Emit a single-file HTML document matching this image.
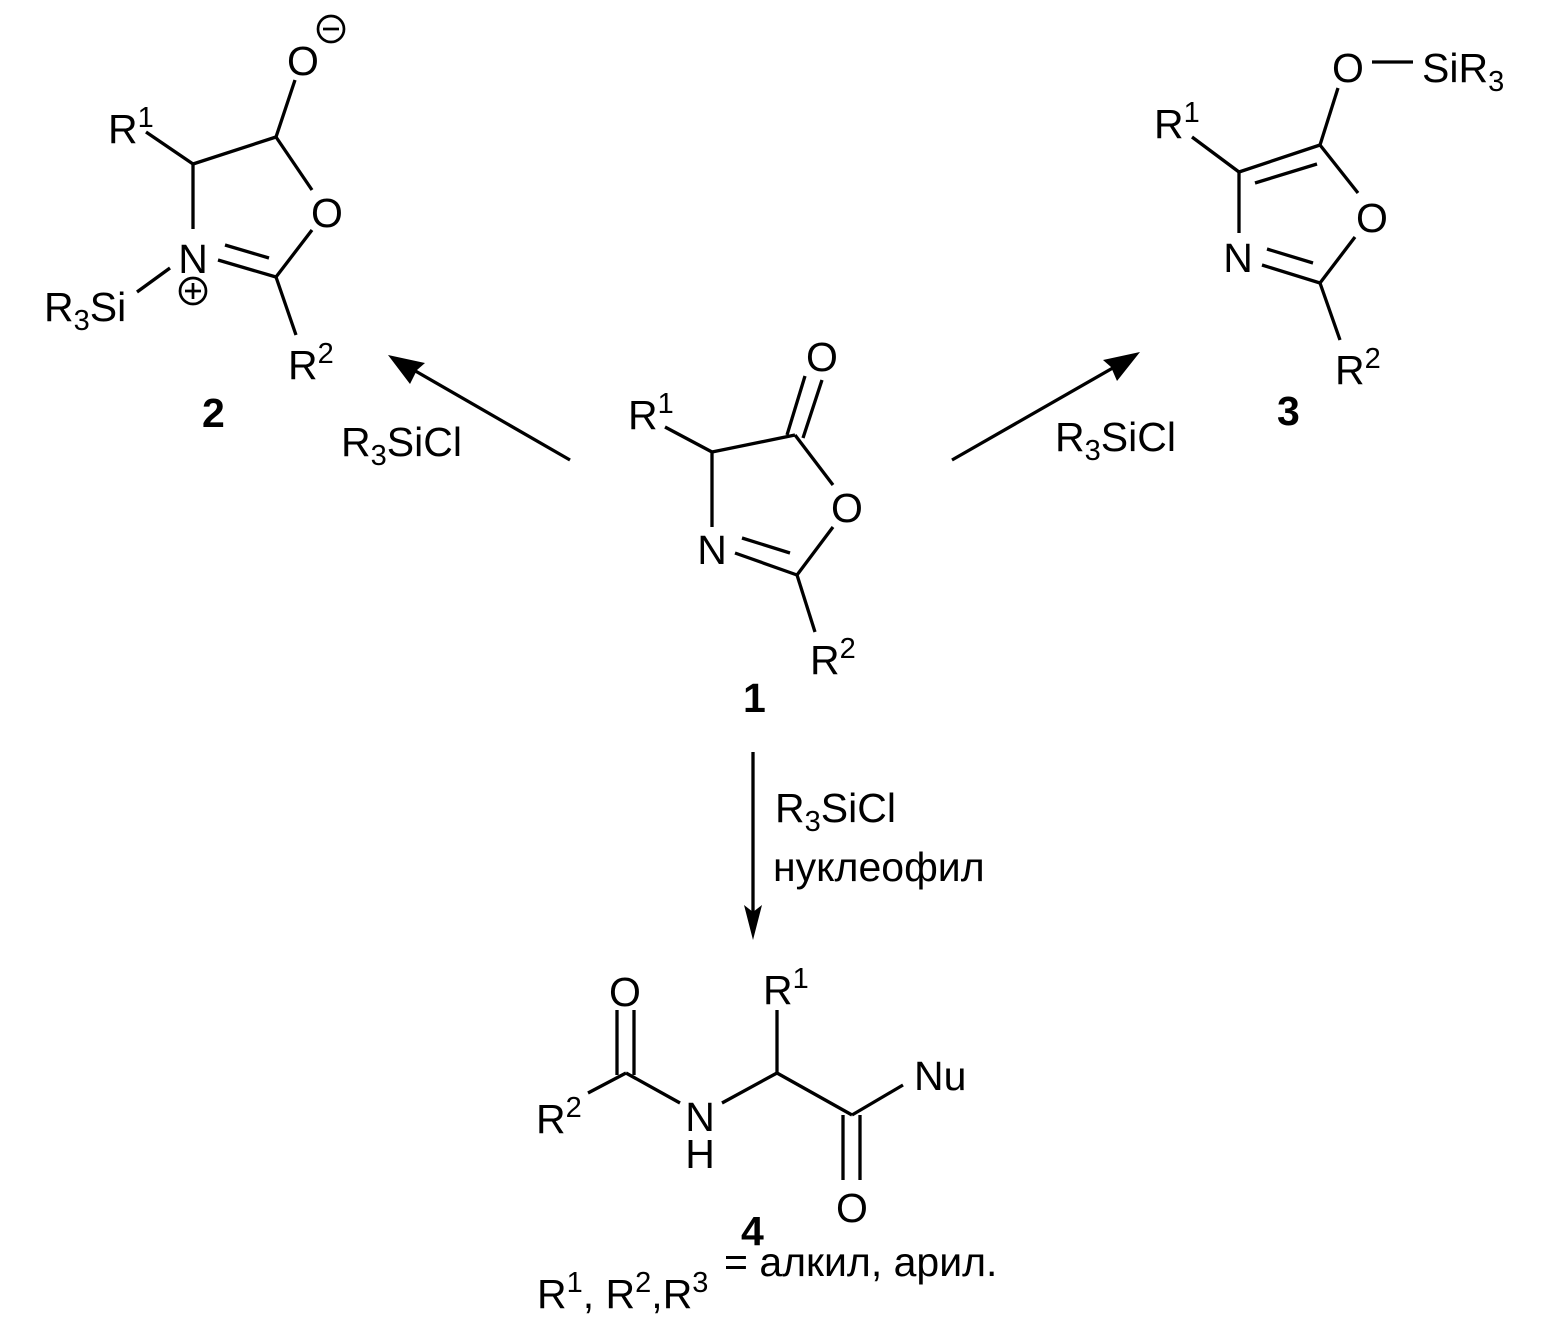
<!DOCTYPE html>
<html><head><meta charset="utf-8"><style>
html,body{margin:0;padding:0;background:#fff}
svg{display:block}
text{font-family:"Liberation Sans",sans-serif;font-size:41px;fill:#000}
.m{text-anchor:middle}
.b{font-weight:bold}
.s{font-size:29px}
</style></head><body>
<svg width="1562" height="1330" viewBox="0 0 1562 1330" xmlns="http://www.w3.org/2000/svg">
<g stroke="#000" stroke-width="3.3" fill="none" stroke-linecap="butt">
<line x1="276" y1="137" x2="295" y2="80"/>
<line x1="193" y1="164" x2="276" y2="137"/>
<line x1="193" y1="164" x2="146" y2="132"/>
<line x1="193" y1="164" x2="193" y2="229"/>
<line x1="170" y1="268" x2="137" y2="292"/>
<line x1="218" y1="260" x2="276" y2="277"/>
<line x1="225" y1="245" x2="269" y2="258"/>
<line x1="276" y1="277" x2="312" y2="230"/>
<line x1="312" y1="190" x2="276" y2="137"/>
<line x1="276" y1="277" x2="296" y2="335"/>
<circle cx="331" cy="29" r="13" stroke-width="2.7"/>
<line x1="323" y1="29" x2="339" y2="29" stroke-width="2.7"/>
<circle cx="193" cy="291" r="13" stroke-width="2.7"/>
<line x1="185" y1="291" x2="201" y2="291" stroke-width="2.7"/>
<line x1="193" y1="283" x2="193" y2="299" stroke-width="2.7"/>
<line x1="712" y1="452" x2="665" y2="427"/>
<line x1="712" y1="452" x2="795" y2="435"/>
<line x1="712" y1="452" x2="712" y2="527"/>
<line x1="787" y1="435" x2="805" y2="376"/>
<line x1="803" y1="438" x2="822" y2="380"/>
<line x1="795" y1="435" x2="833" y2="485"/>
<line x1="833" y1="527" x2="797" y2="575"/>
<line x1="735" y1="553" x2="797" y2="575"/>
<line x1="742" y1="538" x2="790" y2="553"/>
<line x1="797" y1="575" x2="815" y2="632"/>
<line x1="1372" y1="62" x2="1413" y2="62"/>
<line x1="1338" y1="88" x2="1320" y2="145"/>
<line x1="1239" y1="172" x2="1320" y2="145"/>
<line x1="1255" y1="183" x2="1317" y2="164"/>
<line x1="1239" y1="172" x2="1192" y2="137"/>
<line x1="1239" y1="172" x2="1239" y2="233"/>
<line x1="1262" y1="265" x2="1320" y2="283"/>
<line x1="1267" y1="249" x2="1313" y2="263"/>
<line x1="1320" y1="283" x2="1355" y2="237"/>
<line x1="1358" y1="193" x2="1320" y2="145"/>
<line x1="1320" y1="283" x2="1340" y2="340"/>
<line x1="617" y1="1010" x2="617" y2="1075"/>
<line x1="634" y1="1010" x2="634" y2="1075"/>
<line x1="626" y1="1073" x2="588" y2="1093"/>
<line x1="626" y1="1073" x2="680" y2="1103"/>
<line x1="722" y1="1103" x2="777" y2="1073"/>
<line x1="777" y1="1073" x2="777" y2="1010"/>
<line x1="777" y1="1073" x2="852" y2="1115"/>
<line x1="843" y1="1115" x2="843" y2="1180"/>
<line x1="860" y1="1115" x2="860" y2="1180"/>
<line x1="852" y1="1115" x2="903" y2="1085"/>
<line x1="570" y1="460" x2="405" y2="365"/>
<line x1="952" y1="460" x2="1125" y2="361"/>
<line x1="753" y1="752" x2="753" y2="920"/>
</g>
<g fill="#000">
<polygon points="388,355 425,363 417,370 410,384"/>
<polygon points="1140,352 1103,360 1111,367 1117,381"/>
<polygon points="753,940 744,905 753,912 762,905"/>
</g>
<text class="m" x="303" y="75">O</text>
<text x="108" y="143">R<tspan class="s" dy="-16">1</tspan></text>
<text class="m" x="193" y="273">N</text>
<text x="44" y="321">R<tspan class="s" dy="9">3</tspan><tspan dy="-9">Si</tspan></text>
<text class="m" x="327" y="227">O</text>
<text x="288" y="379">R<tspan class="s" dy="-16">2</tspan></text>
<text x="202" y="427" class="b">2</text>
<text x="341" y="456">R<tspan class="s" dy="9">3</tspan><tspan dy="-9">SiCl</tspan></text>
<text x="628" y="429">R<tspan class="s" dy="-16">1</tspan></text>
<text class="m" x="822" y="371">O</text>
<text class="m" x="847" y="522">O</text>
<text class="m" x="712" y="564">N</text>
<text x="810" y="674">R<tspan class="s" dy="-16">2</tspan></text>
<text x="743" y="712" class="b">1</text>
<text class="m" x="1348" y="82">O</text>
<text x="1422" y="82">SiR<tspan class="s" dy="9">3</tspan></text>
<text x="1154" y="138">R<tspan class="s" dy="-16">1</tspan></text>
<text class="m" x="1372" y="232">O</text>
<text class="m" x="1238" y="272">N</text>
<text x="1335" y="384">R<tspan class="s" dy="-16">2</tspan></text>
<text x="1277" y="425" class="b">3</text>
<text x="1055" y="451">R<tspan class="s" dy="9">3</tspan><tspan dy="-9">SiCl</tspan></text>
<text x="775" y="822">R<tspan class="s" dy="9">3</tspan><tspan dy="-9">SiCl</tspan></text>
<text x="773" y="881">нуклеофил</text>
<text class="m" x="625" y="1006">O</text>
<text x="763" y="1004">R<tspan class="s" dy="-16">1</tspan></text>
<text x="914" y="1090">Nu</text>
<text x="536" y="1133">R<tspan class="s" dy="-16">2</tspan></text>
<text class="m" x="700" y="1131">N</text>
<text class="m" x="700" y="1168">H</text>
<text class="m" x="852" y="1222">O</text>
<text x="741" y="1245" class="b">4</text>
<text x="537" y="1308">R<tspan class="s" dy="-16">1</tspan><tspan dy="16">, R</tspan><tspan class="s" dy="-16">2</tspan><tspan dy="16">,R</tspan><tspan class="s" dy="-16">3</tspan></text>
<text x="724" y="1276">= алкил, арил.</text>
</svg>
</body></html>
